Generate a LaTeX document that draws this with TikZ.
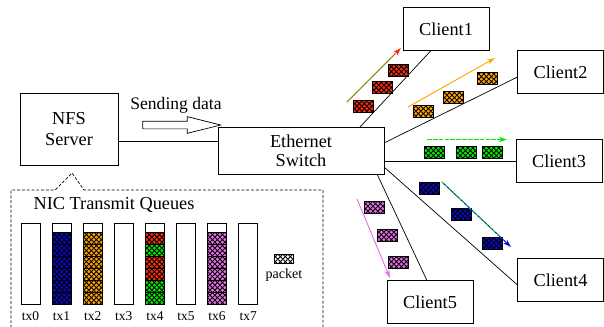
\documentclass[tikz,border=0pt]{standalone}
\usepackage{fontspec}
\setmainfont{Liberation Serif}
\usetikzlibrary{calc,patterns.meta,shapes.arrows,arrows.meta}

\definecolor{qred}{RGB}{250,45,10}
\definecolor{qorange}{RGB}{255,165,0}
\definecolor{qgreen}{RGB}{0,235,0}
\definecolor{qblue}{RGB}{10,10,200}
\definecolor{qviolet}{RGB}{230,110,230}

\tikzdeclarepattern{
  name=pkthatch, type=uncolored,
  bounding box={(0,0) and (4.5pt,4.5pt)},
  tile size={(4.5pt,4.5pt)},
  code={\draw[line width=0.75pt] (0,0) -- (4.5pt,4.5pt) (0,4.5pt) -- (4.5pt,0);}
}

\tikzset{
  box/.style={draw, line width=0.7pt, fill=white, outer sep=0pt, align=center,
    font=\fontsize{15.6}{18}\selectfont},
  client/.style={box, minimum width=2.58cm, minimum height=1.29cm},
  queue/.style={draw, line width=0.7pt, outer sep=0pt, minimum width=0.57cm, minimum height=2.43cm},
  pkt/.style={draw=black, line width=0.6pt, fill=#1, postaction={pattern=pkthatch, pattern color=black}},
  flow/.style={line width=0.8pt, -{Stealth[length=7pt,width=4.5pt]}},
  wire/.style={line width=0.6pt}
}

\begin{document}
\begin{tikzpicture}[x=0.03cm, y=-0.03cm]
  \useasboundingbox (0,0) rectangle (604,326);

  % boxes
  \node[box, minimum width=2.94cm, minimum height=2.16cm] (nfs) at (69,129) {NFS\\Server};
  \node[box, minimum width=4.98cm, minimum height=1.41cm, font=\fontsize{15.6}{16.5}\selectfont] (sw) at (301,150.5) {Ethernet\\Switch};
  \node[client] (c1) at (446,29) {Client1};
  \node[client] (c2) at (560.5,72) {Client2};
  \node[client] (c3) at (559,161) {Client3};
  \node[client] (c4) at (560.5,280) {Client4};
  \node[client] (c5) at (430,302) {Client5};

  % links
  \draw[wire] ($(nfs.east)+(0,12)$) coordinate (l0) -- (l0 -| sw.west);
  \draw[wire] ($(sw.north)+(59,0)$) -- ($(c1.south)+(-15,0)$);
  \draw[wire] ($(sw.east)+(0,-7.5)$) -- ($(c2.west)+(0,5)$);
  \draw[wire] (sw.east |- c3.west) -- (c3.west);
  \draw[wire] ($(sw.east)+(0,16.5)$) -- ($(c4.west)+(0,5)$);
  \draw[wire] ($(sw.south)+(76,0)$) -- ($(c5.north)+(-3,0)$);

  % sending data
  \node[font=\fontsize{15}{17}\selectfont] (send) at (176,105) {Sending data};
  \node[single arrow, draw, fill=white, line width=0.6pt, minimum height=2.34cm, minimum width=0pt,
    inner xsep=0pt, inner ysep=0.105cm, single arrow head extend=0.135cm,
    single arrow tip angle=28] (sarrow) at (174,125) {};

  % NIC queues callout
  \draw[line width=0.6pt, dash pattern=on 2.5pt off 1.6pt]
    (11,328) -- (11,190) -- (55,190) -- (72,173) -- (84,190) -- (323,190) -- (323,328);
  \node[font=\fontsize{15.6}{18}\selectfont] (nicq) at (114,205) {NIC Transmit Queues};

  \foreach \i in {0,...,7} {
    \node[queue] (q\i) at (30.5+31.1*\i,263.5) {};
    \node[font=\fontsize{11.5}{13}\selectfont] (t\i) at (30.5+31.1*\i,316) {tx\i};
  }
  \foreach \q/\cols in {1/{qblue,qblue,qblue,qblue,qblue,qblue},
                        2/{qorange,qorange,qorange,qorange,qorange,qorange},
                        4/{qgreen,qgreen,qred,qred,qgreen,qred},
                        6/{qviolet,qviolet,qviolet,qviolet,qviolet,qviolet}} {
    \foreach \c [count=\k from 0] in \cols
      \draw[pkt=\c] ($(q\q.south west)+(0,-12*\k)$) rectangle +(19,-12);
  }

  \draw[pkt=white] (274,254) rectangle (293,263);
  \node[font=\fontsize{12}{14}\selectfont] (pktlbl) at (284,275) {packet};

  % packets on the wires
  \foreach \x/\y in {353/100,372/81,388/64} \draw[pkt=qred] (\x,\y) rectangle +(20,12);
  \foreach \x/\y in {413/105,443/91,477/72} \draw[pkt=qorange] (\x,\y) rectangle +(20,12);
  \foreach \x/\y in {424/146,456/146,482/146} \draw[pkt=qgreen] (\x,\y) rectangle +(20,12);
  \foreach \x/\y in {419/182,451/208,482/237} \draw[pkt=qblue] (\x,\y) rectangle +(20,12);
  \foreach \x/\y in {364/201,377/229,388/256} \draw[pkt=qviolet] (\x,\y) rectangle +(20,12);

  % flow arrows
  \coordinate (f1a) at (347,102); \coordinate (f1b) at (401,48);
  \coordinate (f2a) at (408,107); \coordinate (f2b) at (495,58);
  \coordinate (f3a) at (427,139.5); \coordinate (f3b) at (507,139.5);
  \coordinate (f4a) at (442,182); \coordinate (f4b) at (511,247);
  \coordinate (f5a) at (357,199); \coordinate (f5b) at (390,278);
  \draw[flow, qred] (f1a) -- (f1b);
  \draw[line width=0.8pt, qgreen, dash pattern=on 2pt off 2pt] (f1a) -- ($(f1a)!0.85!(f1b)$);
  \draw[flow, qorange] (f2a) -- (f2b);
  \draw[flow, color=qgreen, dash pattern=on 4pt off 1pt] (f3a) -- (f3b);
  \draw[flow, qblue] (f4a) -- (f4b);
  \draw[line width=0.8pt, qgreen, dash pattern=on 2pt off 2pt] (f4a) -- ($(f4a)!0.85!(f4b)$);
  \draw[flow, qviolet] (f5a) -- (f5b);
\end{tikzpicture}
\end{document}
